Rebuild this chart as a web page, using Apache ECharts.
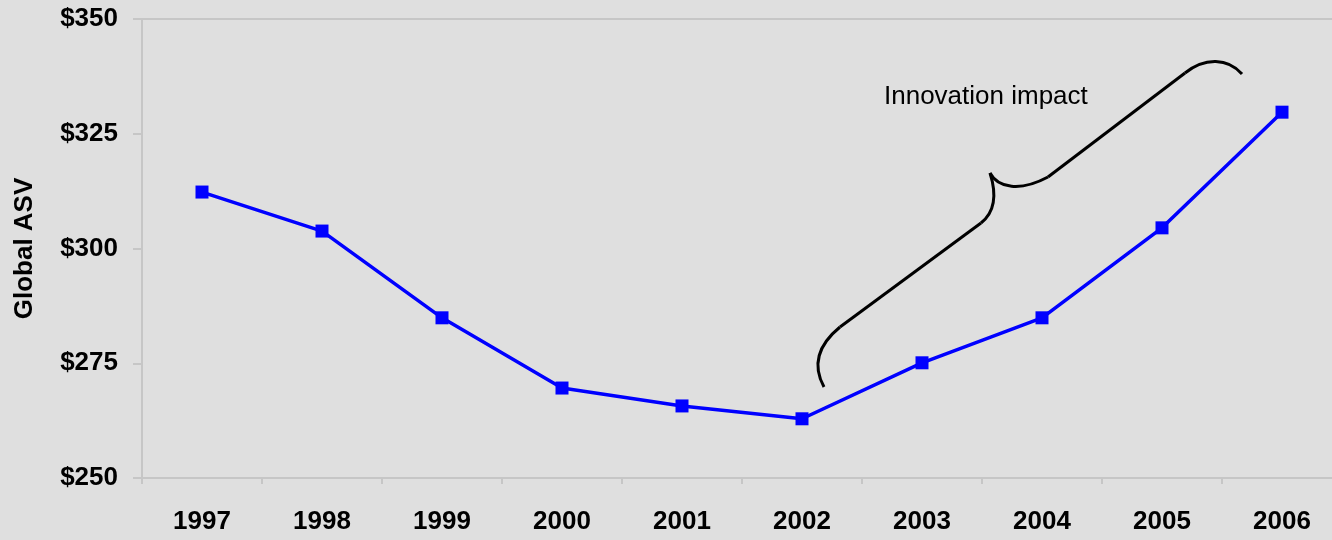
<!DOCTYPE html>
<html>
<head>
<meta charset="utf-8">
<script src="https://cdn.jsdelivr.net/npm/echarts@6/dist/echarts.min.js"></script>
<style>
  html, body { margin: 0; padding: 0; background: #dfdfdf; }
  #chart { width: 1332px; height: 540px; }
</style>
</head>
<body>
<div id="chart"></div>
<script>
var years = ['1997', '1998', '1999', '2000', '2001', '2002', '2003', '2004', '2005', '2006'];
var asv = [312.3, 303.8, 284.9, 269.6, 265.7, 262.9, 275.1, 284.9, 304.5, 329.7];
var yTicks = [250, 275, 300, 325, 350];

var chart = echarts.init(document.getElementById('chart'));
var axisGrey = '#c6c6c6';
var font = 'Liberation Sans, Arial, sans-serif';

// curly brace annotation, pieces of a path
var braceStyle = { stroke: '#000', lineWidth: 3, fill: 'none' };
function curve(x1, y1, c1x, c1y, c2x, c2y, x2, y2) {
  return {
    type: 'bezierCurve',
    shape: { x1: x1, y1: y1, cpx1: c1x, cpy1: c1y, cpx2: c2x, cpy2: c2y, x2: x2, y2: y2 },
    style: braceStyle
  };
}
function seg(x1, y1, x2, y2) {
  return { type: 'line', shape: { x1: x1, y1: y1, x2: x2, y2: y2 }, style: braceStyle };
}

var option = {
  backgroundColor: '#dfdfdf',
  animation: false,
  grid: {
    left: 142,
    top: 19,
    width: 1200,
    bottom: 62,
    outerBoundsMode: 'none',
    containLabel: false,
    show: true,
    borderColor: axisGrey,
    borderWidth: 2,
    backgroundColor: 'transparent'
  },
  xAxis: {
    type: 'category',
    data: years,
    boundaryGap: true,
    axisLine: { lineStyle: { color: axisGrey, width: 2 } },
    axisTick: { show: true, length: 6, lineStyle: { color: axisGrey, width: 2 } },
    axisLabel: {
      color: '#000',
      fontFamily: font,
      fontWeight: 'bold',
      fontSize: 26,
      margin: 31
    },
    splitLine: { show: false }
  },
  yAxis: {
    type: 'value',
    min: yTicks[0],
    max: yTicks[yTicks.length - 1],
    interval: 25,
    name: 'Global ASV',
    nameLocation: 'middle',
    nameGap: 104,
    nameRotate: 90,
    nameTextStyle: {
      color: '#000',
      fontFamily: font,
      fontWeight: 'bold',
      fontSize: 26
    },
    axisLine: { show: true, lineStyle: { color: axisGrey, width: 2 } },
    axisTick: { show: true, length: 9, lineStyle: { color: axisGrey, width: 2 } },
    axisLabel: {
      color: '#000',
      fontFamily: font,
      fontWeight: 'bold',
      fontSize: 26,
      margin: 24,
      formatter: function (v) { return '$' + v; }
    },
    splitLine: { show: false }
  },
  series: [{
    type: 'line',
    data: asv,
    symbol: 'rect',
    symbolSize: 13,
    itemStyle: { color: '#0000ff' },
    lineStyle: { color: '#0000ff', width: 3.5 }
  }],
  graphic: [
    curve(824, 387, 812, 365, 818, 345, 840, 327),
    seg(840, 327, 981, 223),
    curve(981, 223, 995, 212, 997, 195, 990, 173),
    curve(990, 173, 998, 188, 1020, 192, 1048, 177),
    seg(1048, 177, 1185, 73),
    curve(1185, 73, 1205, 57, 1228, 58, 1242, 74),
    {
      type: 'text',
      left: 884,
      top: 84,
      style: {
        text: 'Innovation impact',
        fill: '#000',
        font: '26px Liberation Sans, Arial, sans-serif'
      }
    }
  ]
};

chart.setOption(option);
</script>
</body>
</html>
